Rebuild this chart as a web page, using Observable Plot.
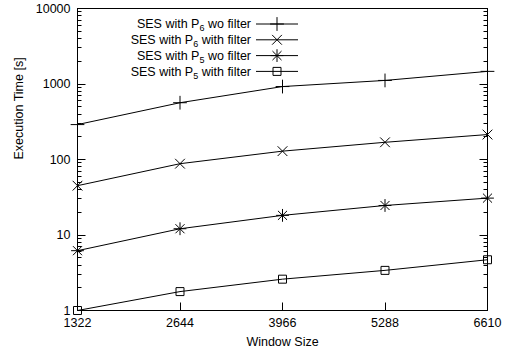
<!DOCTYPE html>
<html>
<head>
<meta charset="utf-8">
<script src="https://cdn.jsdelivr.net/npm/d3@7"></script>
<script src="https://cdn.jsdelivr.net/npm/@observablehq/plot@0.6"></script>
<style>
  html, body { margin: 0; padding: 0; background: #fff; }
  svg text { font-family: "Liberation Sans", Arial, Helvetica, sans-serif; }
</style>
</head>
<body>
<div id="chart"></div>
<script>
// ---- data ----
const windowSizes = [1322, 2644, 3966, 5288, 6610];
const seriesNames = ["SES with P_6 wo filter", "SES with P_6 with filter", "SES with P_5 wo filter", "SES with P_5 with filter"];
const p6WoFilter = [290, 565, 925, 1115, 1470];
const p6WithFilter = [45, 88, 129, 169, 214];
const p5WoFilter = [6.2, 12.1, 18.2, 24.6, 30.8];
const p5WithFilter = [1.0, 1.78, 2.6, 3.4, 4.7];
const seriesSymbols = ["plus", "times", "asterisk", "square"];
const yTicks = [1, 10, 100, 1000, 10000];
const xTicks = [1322, 2644, 3966, 5288, 6610];
const xLabel = "Window Size";
const yLabel = "Execution Time [s]";

// ---- layout ----
const W = 508, H = 352;
const mL = 77, mR = 21, mT = 8, mB = 42;
const fontSize = 12.5;

const allValues = [p6WoFilter, p6WithFilter, p5WoFilter, p5WithFilter];
const rows = [];
allValues.forEach((vals, s) => vals.forEach((v, i) => rows.push({series: seriesNames[s], s, x: windowSizes[i], y: v})));

const minorTicks = [];
for (let d = 1; d < 10000; d *= 10) for (let k = 2; k <= 9; k++) minorTicks.push(d * k);

const xDom = [xTicks[0], xTicks[xTicks.length - 1]];
const yDom = [yTicks[0], yTicks[yTicks.length - 1]];

const marks = [];
// lines
marks.push(Plot.line(rows, {x: "x", y: "y", z: "series", stroke: "#000", strokeWidth: 1}));
// symbols
seriesNames.forEach((name, s) => {
  const d = rows.filter(r => r.s === s);
  if (seriesSymbols[s] === "asterisk") {
    marks.push(Plot.dot(d, {x: "x", y: "y", symbol: "plus", r: 4.2, stroke: "#000", strokeWidth: 1}));
    marks.push(Plot.dot(d, {x: "x", y: "y", symbol: "times", r: 4.2, stroke: "#000", strokeWidth: 1}));
  } else if (seriesSymbols[s] === "square") {
    marks.push(Plot.dot(d, {x: "x", y: "y", symbol: "square", r: 4.5, stroke: "#000", fill: "none", strokeWidth: 1}));
  } else {
    marks.push(Plot.dot(d, {x: "x", y: "y", symbol: seriesSymbols[s], r: 4.5, stroke: "#000", strokeWidth: 1}));
  }
});

marks.push(Plot.frame({stroke: "#000", strokeWidth: 1}));
marks.push(Plot.axisY({ticks: yTicks, tickSize: 0, tickPadding: 7, tickFormat: d => String(d), label: null, fontSize, fill: "#000"}));
marks.push(Plot.axisX({ticks: xTicks, tickSize: 0, tickPadding: 8, tickFormat: d => String(d), label: null, fontSize, fill: "#000"}));
marks.push(Plot.text([xLabel], {text: d => d, frameAnchor: "bottom", dy: 31, fontSize, fill: "#000", lineAnchor: "middle"}));
marks.push(Plot.text([yLabel], {text: d => d, frameAnchor: "left", dx: -59, rotate: -90, fontSize, fill: "#000", lineAnchor: "middle"}));

const chart = Plot.plot({
  width: W, height: H,
  marginLeft: mL, marginRight: mR, marginTop: mT, marginBottom: mB,
  x: {type: "linear", domain: xDom},
  y: {type: "log", domain: yDom},
  style: {fontSize: fontSize + "px", fontFamily: '"Liberation Sans", Arial, sans-serif', color: "#000", background: "#fff"},
  marks
});
document.getElementById("chart").appendChild(chart);

const svg = d3.select(chart);
// inward tick marks placed with Plot's own scales
const sx = v => chart.scale("x").apply(v);
const sy = v => chart.scale("y").apply(v);
const tg = svg.append("g").attr("stroke", "#000").attr("stroke-width", 1).attr("transform", "translate(0.5,0.5)");
const xL = sx(xDom[0]), xR = sx(xDom[1]), yB = sy(yDom[0]);
const hTick = (v, len) => {
  const y = Math.round(sy(v));
  tg.append("line").attr("x1", xL).attr("x2", xL + len).attr("y1", y).attr("y2", y);
  tg.append("line").attr("x1", xR).attr("x2", xR - len).attr("y1", y).attr("y2", y);
};
yTicks.forEach(v => hTick(v, 8));
minorTicks.forEach(v => hTick(v, 4));
xTicks.forEach(v => {
  const x = Math.round(sx(v));
  tg.append("line").attr("x1", x).attr("x2", x).attr("y1", yB).attr("y2", yB - 8);
});

// legend (inside plot, top-right)
const lg = svg.append("g").attr("font-size", fontSize).attr("fill", "#000");
const rowY0 = 24, rowDY = 15.8, textEnd = 251, lineX1 = 256, lineX2 = 298, symX = 277;
const subSize = fontSize * 0.72;
seriesNames.forEach((name, i) => {
  const y = rowY0 + i * rowDY;
  const t = lg.append("text").attr("x", textEnd).attr("y", y + fontSize * 0.35).attr("text-anchor", "end");
  const parts = name.split("_");
  t.append("tspan").text(parts[0]);
  t.append("tspan").attr("dy", "3").attr("font-size", subSize).text(parts[1][0]);
  t.append("tspan").attr("dy", "-3").text(parts[1].slice(1));
  lg.append("line").attr("x1", lineX1).attr("x2", lineX2).attr("y1", y).attr("y2", y).attr("stroke", "#000");
  const sym = seriesSymbols[i];
  const mk = (type, size) => lg.append("path").attr("transform", `translate(${symX},${y})`)
    .attr("d", d3.symbol(type, size)()).attr("stroke", "#000").attr("fill", "none");
  if (sym === "plus") mk(d3.symbolPlus, 64);
  else if (sym === "times") mk(d3.symbolTimes, 64);
  else if (sym === "asterisk") { mk(d3.symbolPlus, 55); mk(d3.symbolTimes, 55); }
  else mk(d3.symbolSquare, 64);
});
</script>
</body>
</html>
